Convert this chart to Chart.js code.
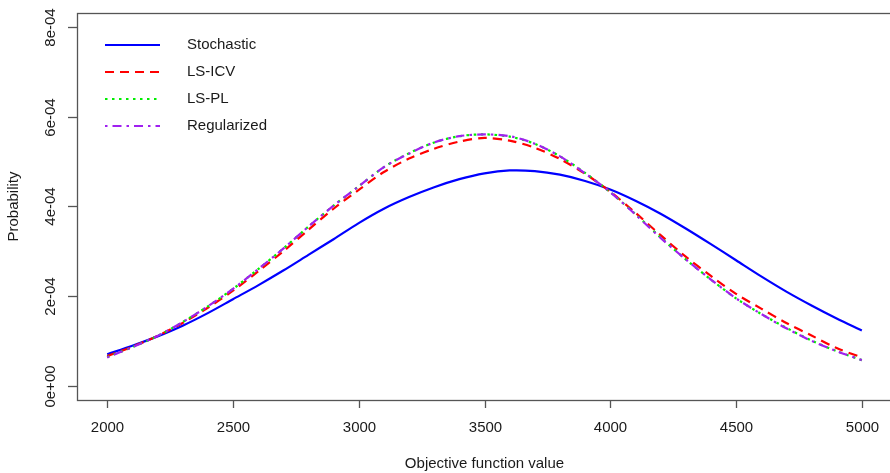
<!DOCTYPE html>
<html>
<head>
<meta charset="utf-8">
<script src="https://cdn.jsdelivr.net/npm/chart.js@4"></script>
<style>
html,body{margin:0;padding:0;overflow:hidden;background:#fff;}
#wrap{width:892px;height:473px;}
</style>
</head>
<body>
<div id="wrap"><canvas id="c" width="892" height="473"></canvas></div>
<script>
const xValues = [2000,2100,2200,2300,2400,2500,2600,2700,2800,2900,3000,3100,3200,3300,3400,3500,3600,3700,3800,3900,4000,4100,4200,4300,4400,4500,4600,4700,4800,4900,5000];
// values in units of 1e-4
const stochastic = [0.70,0.89,1.10,1.34,1.62,1.93,2.24,2.57,2.92,3.27,3.63,3.95,4.21,4.43,4.61,4.74,4.805,4.79,4.71,4.57,4.38,4.13,3.84,3.51,3.16,2.80,2.44,2.10,1.79,1.50,1.23];
const lsICV      = [0.66,0.87,1.11,1.40,1.74,2.12,2.55,3.00,3.48,3.95,4.37,4.77,5.07,5.29,5.45,5.53,5.47,5.31,5.06,4.73,4.33,3.86,3.36,2.88,2.45,2.05,1.72,1.40,1.12,0.84,0.63];
const lsPL       = [0.64,0.86,1.11,1.42,1.77,2.16,2.60,3.06,3.55,4.02,4.45,4.88,5.19,5.43,5.57,5.61,5.56,5.40,5.12,4.75,4.32,3.83,3.31,2.82,2.37,1.95,1.60,1.29,1.01,0.77,0.57];
const regularized= [0.63,0.86,1.11,1.42,1.77,2.16,2.60,3.06,3.55,4.02,4.45,4.88,5.18,5.43,5.57,5.61,5.57,5.40,5.12,4.74,4.32,3.82,3.30,2.82,2.37,1.95,1.60,1.28,1.00,0.77,0.57];
const seriesNames = ["Stochastic","LS-ICV","LS-PL","Regularized"];
const xTickValues = [2000,2500,3000,3500,4000,4500,5000];
const yTickValues = [0,0.0002,0.0004,0.0006,0.0008];
const yTickLabels = ["0e+00","2e-04","4e-04","6e-04","8e-04"];
const xTitle = "Objective function value";
const yTitle = "Probability";

const FONT = '"Liberation Sans", Arial, sans-serif';
function pts(arr){ return xValues.map((x,i)=>({x:x, y:arr[i]*1e-4})); }

const styles = [
  {color:'#0000FF', dash:[], order:4},
  {color:'#FF0000', dash:[9,6], order:3},
  {color:'#00EE00', dash:[2.5,4.5], order:2},
  {color:'#A020F0', dash:[2.5,5,9,5], order:1}
];
const allSeries = [stochastic, lsICV, lsPL, regularized];

const datasets = allSeries.map((s,i)=>({
  label: seriesNames[i],
  data: pts(s),
  borderColor: styles[i].color,
  backgroundColor: styles[i].color,
  borderDash: styles[i].dash,
  borderWidth: 2.2,
  pointRadius: 0,
  tension: 0.3,
  fill: false,
  order: styles[i].order
}));

const rStyle = {
  id:'rStyle',
  afterDraw(chart){
    const ctx = chart.ctx, a = chart.chartArea;
    const xs = chart.scales.x, ys = chart.scales.y;
    ctx.save();
    ctx.strokeStyle = '#555';
    ctx.lineWidth = 1.3;
    ctx.setLineDash([]);
    ctx.strokeRect(a.left+0.5, a.top+0.5, a.right-a.left-1, a.bottom-a.top);
    ctx.fillStyle = '#1a1a1a';
    ctx.font = '15px ' + FONT;
    ctx.textAlign = 'center'; ctx.textBaseline = 'middle';
    xTickValues.forEach(v=>{
      const px = Math.round(xs.getPixelForValue(v))+0.5;
      ctx.beginPath(); ctx.moveTo(px, a.bottom); ctx.lineTo(px, a.bottom+8); ctx.stroke();
      ctx.fillText(String(v), px, a.bottom+28);
    });
    yTickValues.forEach((v,i)=>{
      const py = Math.round(ys.getPixelForValue(v))+0.5;
      ctx.beginPath(); ctx.moveTo(a.left-9, py); ctx.lineTo(a.left, py); ctx.stroke();
      ctx.save();
      ctx.translate(a.left-26, py);
      ctx.rotate(-Math.PI/2);
      ctx.fillText(yTickLabels[i], 0, 0);
      ctx.restore();
    });
    ctx.fillText(xTitle, (a.left+a.right)/2, 464);
    ctx.save();
    ctx.translate(14, (a.top+a.bottom)/2);
    ctx.rotate(-Math.PI/2);
    ctx.fillText(yTitle, 0, 0);
    ctx.restore();
    ctx.textAlign = 'left';
    chart.data.datasets.forEach((ds,i)=>{
      const y = 45 + i*27;
      ctx.beginPath();
      ctx.strokeStyle = ds.borderColor;
      ctx.lineWidth = ds.borderWidth;
      ctx.setLineDash(ds.borderDash);
      ctx.moveTo(105, y); ctx.lineTo(160, y); ctx.stroke();
      ctx.setLineDash([]);
      ctx.fillStyle = '#1a1a1a';
      ctx.fillText(ds.label, 187, y);
    });
    ctx.restore();
  }
};

new Chart(document.getElementById('c'), {
  type: 'line',
  data: { datasets: datasets },
  options: {
    responsive: false,
    animation: false,
    devicePixelRatio: 1,
    layout: { padding: { left: 77, top: 13, right: 0, bottom: 73 } },
    scales: {
      x: { type: 'linear', min: 1880, max: 5120, display: false },
      y: { type: 'linear', min: -0.000032, max: 0.000832, display: false }
    },
    plugins: { legend: { display: false }, tooltip: { enabled: false } }
  },
  plugins: [rStyle]
});
</script>
</body>
</html>
